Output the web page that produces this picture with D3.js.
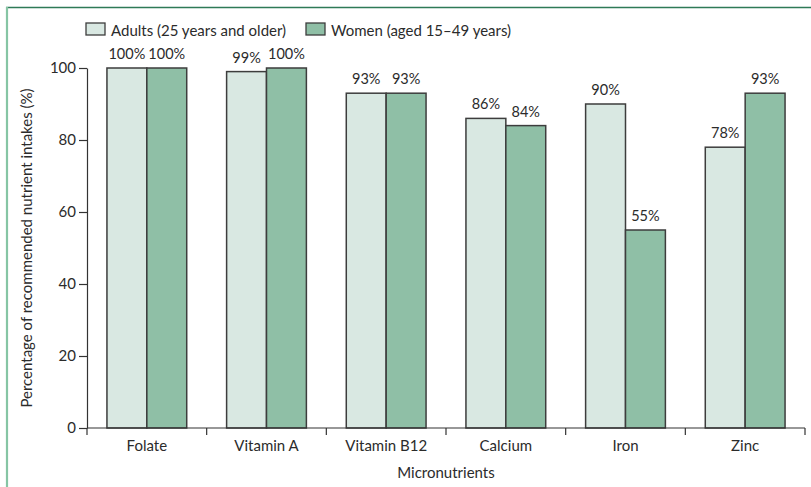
<!DOCTYPE html>
<html>
<head>
<meta charset="utf-8">
<script src="https://cdn.jsdelivr.net/npm/d3@7"></script>
<style>
  html, body { margin: 0; padding: 0; background: #fff; }
  svg { display: block; font-family: Lato, "Open Sans", sans-serif; }
</style>
</head>
<body>
<svg id="chart" width="811" height="487"></svg>
<script>
const categories = ["Folate", "Vitamin A", "Vitamin B12", "Calcium", "Iron", "Zinc"];
const seriesNames = ["Adults (25 years and older)", "Women (aged 15\u201349 years)"];
const adults = [100, 99, 93, 86, 90, 78];
const women = [100, 100, 93, 84, 55, 93];
const yTicks = [0, 20, 40, 60, 80, 100];
const colors = ["#d9e8e2", "#8fbfa6"];
const seriesValues = [adults, women];

(function () {
const svg = d3.select("#chart");
const textColor = "#2b2b2b";
const lineColor = "#333";

// frame
svg.append("line").attr("x1", 6).attr("x2", 811).attr("y1", 7.5).attr("y2", 7.5)
  .attr("stroke", "#2e7a57").attr("stroke-width", 1.5);
svg.append("line").attr("x1", 7).attr("x2", 7).attr("y1", 7).attr("y2", 487)
  .attr("stroke", "#86c5a4").attr("stroke-width", 2.2);

const mLeft = 87, mRight = 805, mTop = 68, mBottom = 428;

const x0 = d3.scaleBand().domain(categories).range([mLeft, mRight]).paddingInner(0).paddingOuter(0);
const x1 = d3.scaleBand().domain(seriesNames).range([0, x0.bandwidth()]).paddingInner(0).paddingOuter(0.5);
const y = d3.scaleLinear().domain([0, 100]).range([mBottom, mTop]);

// bars
const groups = svg.append("g").selectAll("g").data(categories).join("g")
  .attr("transform", d => `translate(${x0(d)},0)`);

groups.selectAll("rect")
  .data((d, i) => seriesNames.map((s, j) => ({ s, j, v: seriesValues[j][i] })))
  .join("rect")
  .attr("x", d => x1(d.s))
  .attr("y", d => y(d.v))
  .attr("width", x1.bandwidth())
  .attr("height", d => y(0) - y(d.v))
  .attr("fill", d => colors[d.j])
  .attr("stroke", "#3d3d3d")
  .attr("stroke-width", 1.5);

groups.selectAll("text.val")
  .data((d, i) => seriesNames.map((s, j) => ({ s, j, v: seriesValues[j][i] })))
  .join("text")
  .attr("class", "val")
  .attr("x", d => x1(d.s) + x1.bandwidth() / 2)
  .attr("y", d => y(d.v) - 9)
  .attr("text-anchor", "middle")
  .attr("font-size", 14.5)
  .attr("fill", textColor)
  .text(d => d.v + "%");

// y axis
const yAxis = svg.append("g").attr("transform", `translate(${mLeft},0)`)
  .call(d3.axisLeft(y).tickValues(yTicks).tickSize(8).tickSizeOuter(0).tickPadding(3));
yAxis.select(".domain").attr("stroke", lineColor).attr("stroke-width", 1.2);
yAxis.selectAll(".tick line").attr("stroke", lineColor).attr("stroke-width", 1.2);
yAxis.selectAll(".tick text").attr("font-size", 15).attr("fill", textColor)
  .attr("font-family", "Lato, 'Open Sans', sans-serif");

// x axis: line + boundary ticks
const xg = svg.append("g");
xg.append("line").attr("x1", mLeft).attr("x2", mRight).attr("y1", mBottom).attr("y2", mBottom)
  .attr("stroke", lineColor).attr("stroke-width", 1.2);
const boundaries = categories.map(c => x0(c)).concat([x0(categories[categories.length - 1]) + x0.bandwidth()]);
xg.selectAll("line.bt").data(boundaries).join("line").attr("class", "bt")
  .attr("x1", d => d).attr("x2", d => d).attr("y1", mBottom).attr("y2", mBottom + 7)
  .attr("stroke", lineColor).attr("stroke-width", 1.2);

const xAxis = svg.append("g").attr("transform", `translate(0,${mBottom})`)
  .call(d3.axisBottom(x0).tickSize(0).tickPadding(12));
xAxis.select(".domain").remove();
xAxis.selectAll(".tick text").attr("font-size", 15).attr("fill", textColor)
  .attr("font-family", "Lato, 'Open Sans', sans-serif");

// axis titles
svg.append("text").attr("x", (mLeft + mRight) / 2).attr("y", 478)
  .attr("text-anchor", "middle").attr("font-size", 15).attr("fill", textColor)
  .text("Micronutrients");
svg.append("text")
  .attr("transform", `translate(32,${(mTop + mBottom) / 2}) rotate(-90)`)
  .attr("text-anchor", "middle").attr("font-size", 15).attr("fill", textColor)
  .text("Percentage of recommended nutrient intakes (%)");

// legend
const legendX = [86, 306];
const lg = svg.append("g").selectAll("g").data(seriesNames).join("g")
  .attr("transform", (d, i) => `translate(${legendX[i]},23)`);
lg.append("rect").attr("width", 19).attr("height", 12)
  .attr("fill", (d, i) => colors[i]).attr("stroke", "#3d3d3d").attr("stroke-width", 1.3);
lg.append("text").attr("x", 25).attr("y", 12.5).attr("font-size", 15).attr("fill", textColor)
  .text(d => d);
})();
</script>
</body>
</html>
